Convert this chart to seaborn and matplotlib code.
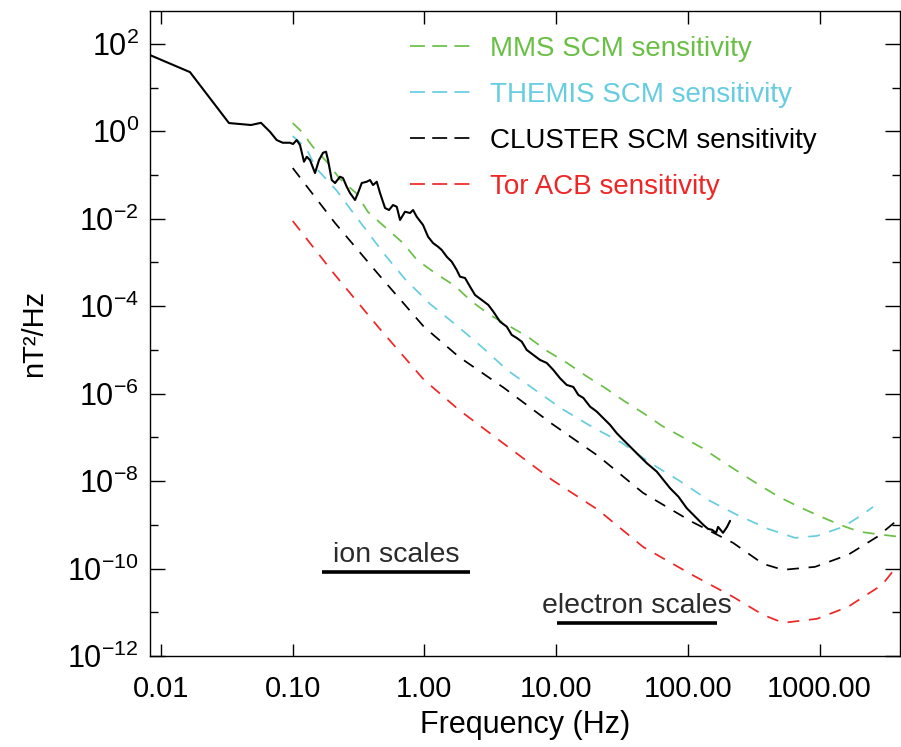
import numpy as np
import pandas as pd
import matplotlib
matplotlib.use("Agg")
import matplotlib.pyplot as plt
import seaborn as sns
from matplotlib.lines import Line2D
from matplotlib.ticker import FixedLocator, NullFormatter, FixedFormatter

# ---------------- data ----------------
spec_f = [0.00825, 0.0166, 0.0328, 0.0483, 0.0574, 0.0672, 0.0756, 0.0840, 0.0954,
          0.1005, 0.1072, 0.1136, 0.1218, 0.1278, 0.1353, 0.1477, 0.1584, 0.1699,
          0.1790, 0.1854, 0.1978, 0.2096, 0.2286, 0.2408, 0.2570, 0.2723, 0.2972,
          0.3131, 0.3342, 0.3646, 0.3864, 0.4072, 0.4343, 0.4602, 0.5022, 0.5385,
          0.5776, 0.6164, 0.6528, 0.7121, 0.7774, 0.8194, 0.8740, 0.9759, 1.065,
          1.162, 1.268, 1.353, 1.477, 1.612, 1.759, 1.863, 2.034, 2.220, 2.423,
          2.723, 3.057, 3.336, 3.750, 4.216, 4.601, 5.021, 5.481, 5.980, 6.713,
          7.546, 8.486, 9.52, 10.70, 12.03, 13.51, 14.74, 16.09, 18.09, 20.34,
          22.83, 25.66, 28.85, 32.37, 36.40, 42.10, 48.75, 58.05, 65.16, 73.26,
          84.7, 98.1, 113.4, 131.1, 142.3, 152.7, 163.8, 169.6, 185.0, 198.5, 209.1]
spec_p = [55.2, 22.5, 1.54, 1.39, 1.56, 0.974, 0.629, 0.546, 0.546,
          0.510, 0.629, 0.484, 0.201, 0.261, 0.2197, 0.1108, 0.2197, 0.3226,
          0.340, 0.2197, 0.0767, 0.0655, 0.0912, 0.0852, 0.0539, 0.0387, 0.0268,
          0.0387, 0.0655, 0.0701, 0.0767, 0.0589, 0.0701, 0.0387, 0.01757, 0.01581,
          0.02056, 0.01880, 0.00934, 0.01445, 0.0135, 0.01581, 0.0111, 0.00718, 0.00388,
          0.00278, 0.00229, 0.00193, 0.001353, 0.001040, 6.72e-4, 4.72e-4, 4.41e-4, 2.79e-4, 1.80e-4,
          1.386e-4, 1.065e-4, 7.49e-5, 4.42e-5, 3.40e-5, 2.20e-5, 1.875e-5, 1.544e-5, 9.97e-6, 7.67e-6,
          5.89e-6, 5.03e-6, 3.48e-6, 2.25e-6, 1.58e-6, 1.42e-6, 9.34e-7, 7.97e-7, 5.05e-7, 3.88e-7,
          2.74e-7, 1.93e-7, 1.244e-7, 8.74e-8, 6.15e-8, 3.97e-8, 2.57e-8, 1.65e-8, 1.065e-8, 6.88e-9,
          4.42e-9, 2.40e-9, 1.544e-9, 9.97e-10, 8.08e-10, 7.67e-10, 6.55e-10, 8.97e-10, 6.55e-10, 8.97e-10, 1.23e-9]

mms_f = [0.1, 0.1177, 0.1426, 0.1822, 0.2286, 0.3024, 0.3730, 0.5110, 0.6880, 0.8787,
         1.204, 1.707, 2.258, 3.148, 4.389, 6.118, 8.531, 12.10, 16.87, 23.51, 32.78,
         45.70, 63.72, 90.4, 128.2, 175.6, 249.1, 347.3, 492.6, 698.8, 991, 1431, 2030, 3034, 4086]
mms_p = [1.54, 0.959, 0.4355, 0.1977, 0.0808, 0.0387, 0.01422, 0.00613, 0.00278, 0.001138,
         5.74e-4, 2.896e-4, 1.315e-4, 6.29e-5, 3.53e-5, 1.977e-5, 9.46e-6, 5.03e-6, 2.54e-6, 1.35e-6, 6.81e-7,
         3.62e-7, 1.827e-7, 1.024e-7, 5.74e-8, 3.05e-8, 1.54e-8, 8.18e-9, 4.35e-9, 2.57e-9, 1.60e-9, 9.97e-10,
         6.90e-10, 5.89e-10, 5.30e-10]

themis_f = [0.1, 0.1262, 0.1502, 0.2170, 0.3078, 0.5022, 0.7121, 1.103, 1.738, 2.786, 4.239,
            6.917, 11.09, 18.74, 31.65, 51.64, 84.24, 142.3, 236.4, 406.4, 651.6, 957, 1508, 2102, 2549]
themis_p = [0.777, 0.413, 0.1442, 0.0430, 0.01038, 0.00148, 4.18e-4, 1.123e-4, 3.72e-5, 1.108e-5, 3.48e-6,
            1.215e-6, 4.47e-7, 1.733e-7, 7.46e-8, 2.61e-8, 1.065e-8, 3.72e-9, 1.688e-9, 8.08e-10, 5.03e-10,
            5.59e-10, 8.97e-10, 1.688e-9, 2.57e-9]

cluster_f = [0.1, 0.2096, 0.4520, 0.9931, 1.831, 4.022, 9.31, 20.81, 45.70, 107.6, 220.4,
             372.4, 528.2, 924.5, 1646, 2733, 4086]
cluster_p = [0.1442, 0.00797, 5.16e-4, 3.35e-5, 6.90e-6, 1.35e-6, 2.03e-7, 3.77e-8, 5.37e-9, 1.168e-9,
             3.87e-10, 1.28e-10, 9.34e-11, 1.094e-10, 2.06e-10, 5.30e-10, 1.442e-9]

tor_f = [0.1, 0.2096, 0.4520, 0.9931, 1.831, 4.022, 9.31, 20.81, 45.70, 107.6, 220.4,
         372.4, 528.2, 957, 1646, 2982, 3945]
tor_p = [0.00886, 5.16e-4, 3.18e-5, 2.06e-6, 4.24e-7, 7.09e-8, 1.065e-8, 2.20e-9, 3.13e-10, 7.18e-11,
         2.25e-11, 8.74e-12, 5.74e-12, 7.09e-12, 1.332e-11, 4.24e-11, 1.215e-10]

legend_labels = ["MMS SCM sensitivity", "THEMIS SCM sensitivity",
                 "CLUSTER SCM sensitivity", "Tor ACB sensitivity"]
ion_range = [0.167, 2.22]
ion_level = 8.4e-11
electron_range = [10.2, 167.0]
electron_level = 5.74e-12
x_tick_values = [0.01, 0.1, 1.0, 10.0, 100.0, 1000.0]
x_tick_labels = ["0.01", "0.10", "1.00", "10.00", "100.00", "1000.00"]
y_major_exp = [2, 0, -2, -4, -6, -8, -10, -12]
y_minor_exp = [1, -1, -3, -5, -7, -9, -11]

# ---------------- style ----------------
sns.set_style("white")
FONT = "Liberation Sans"
plt.rcParams['font.family'] = [FONT, 'DejaVu Sans']
plt.rcParams['mathtext.fontset'] = 'custom'
plt.rcParams['mathtext.rm'] = FONT
plt.rcParams['mathtext.it'] = FONT
plt.rcParams['mathtext.bf'] = FONT
plt.rcParams['mathtext.default'] = 'regular'
for k in ['text.color', 'axes.labelcolor', 'xtick.color', 'ytick.color', 'axes.edgecolor']:
    plt.rcParams[k] = 'black'

GREEN = "#6abf45"
CYAN = "#66cde0"
RED = "#ee2626"
BLACK = "#000000"

fig = plt.figure(figsize=(9.01, 7.47), dpi=100)
ax = fig.add_axes([150/901, 1-656/747, 750/901, 645/747])

dash = (6.8, 5.6)
LW = 1.25
series = [(mms_f, mms_p, GREEN, legend_labels[0]),
          (themis_f, themis_p, CYAN, legend_labels[1]),
          (cluster_f, cluster_p, BLACK, legend_labels[2]),
          (tor_f, tor_p, RED, legend_labels[3])]
handles = []
for f, p, c, lab in series:
    df = pd.DataFrame({"f": f, "p": p})
    sns.lineplot(data=df, x="f", y="p", ax=ax, color=c, lw=LW, sort=False,
                 estimator=None)
    ax.get_lines()[-1].set_dashes(dash)
    handles.append(Line2D([], [], color=c, lw=LW, dashes=(8.6, 4.2)))

df_s = pd.DataFrame({"f": spec_f, "p": spec_p})
sns.lineplot(data=df_s, x="f", y="p", ax=ax, color="black", lw=1.5, sort=False,
             estimator=None)

ax.set_xscale("log")
ax.set_yscale("log")
ax.set_xlim(8.25e-3, 4.08e3)
ax.set_ylim(1e-12, 10**2.75)

# scale bars
ax.plot(ion_range, [ion_level]*2, color="black", lw=2.6, solid_capstyle="butt")
ax.plot(electron_range, [electron_level]*2, color="black", lw=2.6, solid_capstyle="butt")
ax.text(np.sqrt(ion_range[0]*ion_range[1]), ion_level*1.25, "ion scales",
        ha="center", va="bottom", fontsize=20.5, color="#2b2b2b")
ax.text(np.sqrt(electron_range[0]*electron_range[1]), electron_level*1.22, "electron scales",
        ha="center", va="bottom", fontsize=20.5, color="#2b2b2b")

# ticks
ax.xaxis.set_major_locator(FixedLocator(x_tick_values))
ax.xaxis.set_major_formatter(FixedFormatter(x_tick_labels))
ax.xaxis.set_minor_locator(FixedLocator([]))
ax.yaxis.set_major_locator(FixedLocator([10.0**e for e in y_major_exp]))
ax.yaxis.set_major_formatter(FixedFormatter([r"$10^{%d}$" % e for e in y_major_exp]))
ax.yaxis.set_minor_locator(FixedLocator([10.0**e for e in y_minor_exp]))
ax.yaxis.set_minor_formatter(NullFormatter())
ax.tick_params(axis="x", which="major", direction="in", length=9, width=1.0,
               top=True, bottom=True, labelsize=21, pad=14)
ax.tick_params(axis="y", which="major", direction="in", length=11, width=1.0,
               left=True, right=True, labelsize=22, pad=8)
ax.tick_params(axis="y", which="minor", direction="in", length=6, width=1.0,
               left=True, right=True)
for s in ax.spines.values():
    s.set_color("black")
    s.set_linewidth(1.0)

ax.set_xlabel("Frequency (Hz)", fontsize=22, labelpad=5)
ax.set_ylabel("nT²/Hz", fontsize=21, labelpad=14)

leg = ax.legend(handles=handles, labels=legend_labels, loc="upper left",
                bbox_to_anchor=((410-150)/750, 1-(36-11)/645), frameon=False,
                borderaxespad=0, borderpad=0,
                fontsize=20, handlelength=2.16, handletextpad=0.72, labelspacing=0.72,
                labelcolor="linecolor")

fig.savefig("out.png", dpi=100)
